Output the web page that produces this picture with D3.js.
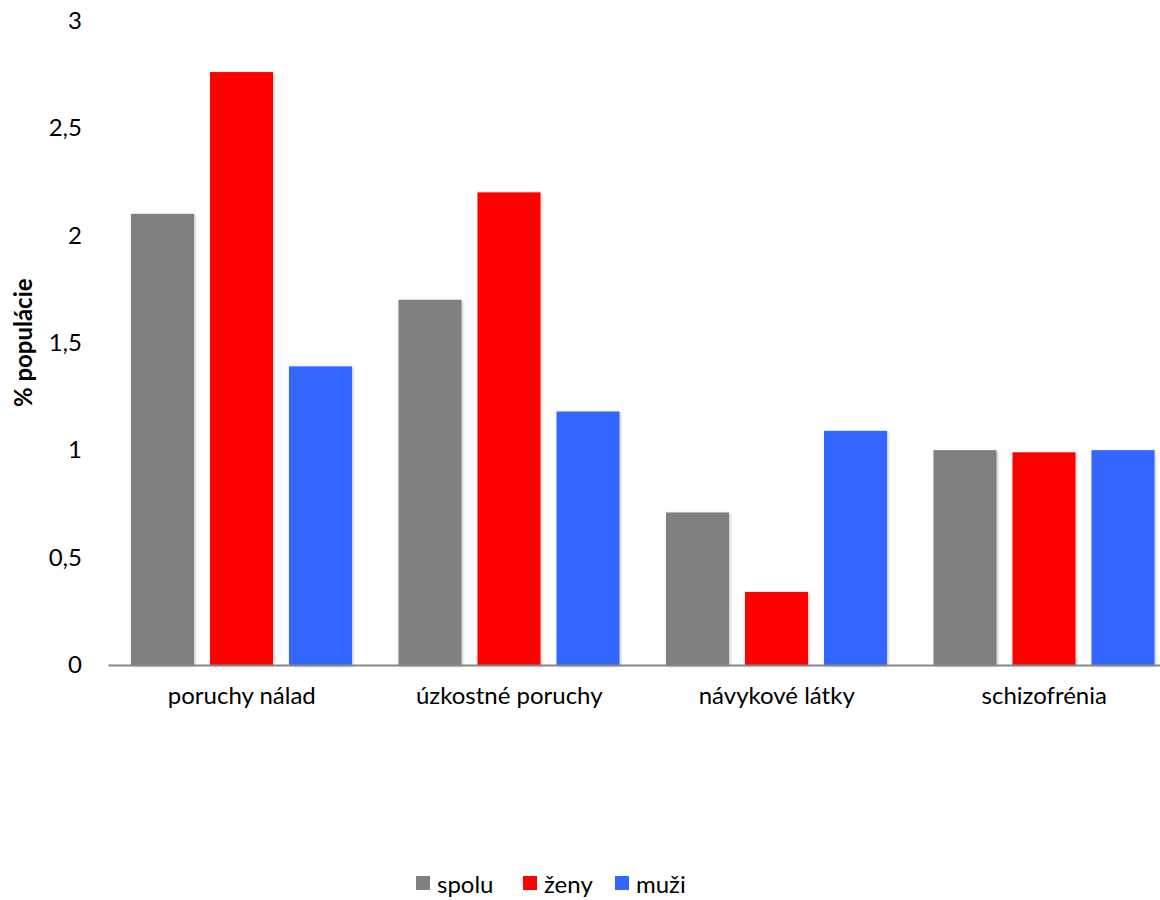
<!DOCTYPE html>
<html lang="sk">
<head>
<meta charset="UTF-8">
<script src="https://cdn.jsdelivr.net/npm/d3@7"></script>
<title>% populácie</title>
<style>
  body { margin: 0; background: #fff; }
  text { font-family: Lato, "Open Sans", sans-serif; fill: #000; }
</style>
</head>
<body>
<div id="chart"></div>
<script>
var categories = ["poruchy nálad", "úzkostné poruchy", "návykové látky", "schizofrénia"];
var seriesNames = ["spolu", "ženy", "muži"];
var spolu = [2.1, 1.7, 0.71, 1.0];
var zeny  = [2.76, 2.2, 0.34, 0.99];
var muzi  = [1.39, 1.18, 1.09, 1.0];
var yTicks = [0, 0.5, 1, 1.5, 2, 2.5, 3];
var colors = ["#808080", "#ff0000", "#3366ff"];

var values = [spolu, zeny, muzi];
var W = 1160, H = 900;
var mLeft = 108, mRight = 1178, mTop = 20.5, mBottom = 665;
var fs = "24px";

var svg = d3.select("#chart").append("svg").attr("width", W).attr("height", H);

var defs = svg.append("defs");
var f = defs.append("filter").attr("id", "sh").attr("x", "-20%").attr("y", "-5%").attr("width", "140%").attr("height", "110%");
f.append("feDropShadow").attr("dx", 1).attr("dy", 1).attr("stdDeviation", 1.5).attr("flood-color", "#000").attr("flood-opacity", 0.25);

var x0 = d3.scaleBand().domain(categories).range([mLeft, mRight]);
var x1 = d3.scaleBand().domain(seriesNames).range([23, 244]).paddingInner(16 / 79);
var y = d3.scaleLinear().domain([0, 3]).range([mBottom, mTop]);

// bars
var g = svg.append("g");
categories.forEach(function(c, i) {
  seriesNames.forEach(function(s, j) {
    g.append("rect")
      .attr("x", x0(c) + x1(s))
      .attr("y", y(values[j][i]))
      .attr("width", x1.bandwidth())
      .attr("height", y(0) - y(values[j][i]))
      .attr("fill", colors[j])
      .attr("filter", "url(#sh)");
  });
});

// y axis (labels only)
var fmt = function(d) { return String(d).replace(".", ","); };
var yAxis = svg.append("g").attr("transform", "translate(82,0)")
  .call(d3.axisLeft(y).tickValues(yTicks).tickFormat(fmt).tickSize(0).tickPadding(0));
yAxis.select(".domain").remove();
yAxis.selectAll("text").style("font-size", fs).style("font-family", "Lato, 'Open Sans', sans-serif").attr("fill", "#000");

// x axis
var xAxis = svg.append("g").attr("transform", "translate(0," + mBottom + ")")
  .call(d3.axisBottom(x0).tickSize(0).tickPadding(22));
xAxis.select(".domain").attr("stroke", "#868686").attr("stroke-width", 2);
xAxis.selectAll("text").style("font-size", fs).style("font-family", "Lato, 'Open Sans', sans-serif").attr("fill", "#000");

// y title
svg.append("text")
  .attr("transform", "translate(32," + ((mTop + mBottom) / 2) + ") rotate(-90)")
  .attr("text-anchor", "middle")
  .style("font-size", fs).style("font-weight", "bold")
  .text("% populácie");

// legend
var legX = [416, 523, 615];
var leg = svg.append("g");
seriesNames.forEach(function(s, j) {
  leg.append("rect").attr("x", legX[j]).attr("y", 876).attr("width", 14).attr("height", 14).attr("fill", colors[j]);
  leg.append("text").attr("x", legX[j] + 21).attr("y", 893).style("font-size", fs).text(s);
});
</script>
</body>
</html>
